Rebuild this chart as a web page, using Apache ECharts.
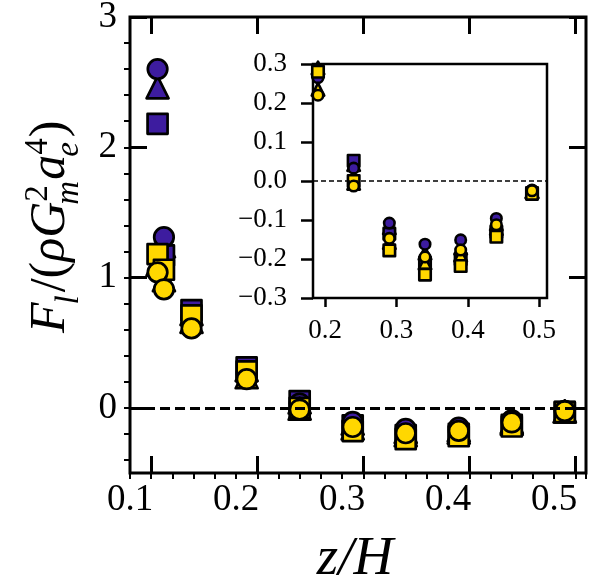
<!DOCTYPE html>
<html>
<head>
<meta charset="utf-8">
<script src="https://cdn.jsdelivr.net/npm/echarts@6/dist/echarts.min.js"></script>
<style>
  html, body { margin: 0; padding: 0; background: #fff; }
  #chart { width: 603px; height: 588px; }
</style>
</head>
<body>
<div id="chart"></div>
<script>
// z/H of the samples
const zPos = [0.106, 0.112, 0.138, 0.19, 0.24, 0.29, 0.34, 0.39, 0.44, 0.49];
// lift force, purple set
const purpleSquare   = [2.18, 1.17, 0.75, 0.31, 0.052, -0.135, -0.21, -0.20, -0.13, -0.031];
const purpleTriangle = [2.46, 1.24, 0.72, 0.29, 0.042, -0.12, -0.185, -0.172, -0.11, -0.027];
const purpleCircle   = [2.60, 1.31, 0.69, 0.265, 0.033, -0.108, -0.162, -0.151, -0.096, -0.023];
// lift force, yellow set
const yellowSquare   = [1.18, 1.06, 0.71, 0.28, 0.0, -0.178, -0.24, -0.218, -0.143, -0.033];
const yellowTriangle = [1.10, 0.98, 0.66, 0.235, -0.006, -0.158, -0.21, -0.19, -0.122, -0.028];
const yellowCircle   = [1.04, 0.91, 0.61, 0.22, -0.013, -0.147, -0.195, -0.177, -0.112, -0.025];

// ticks of the main axes
const xMajorTicks = [0.1, 0.2, 0.3, 0.4, 0.5];
const xLabelAt = [0.08, 0.18, 0.28, 0.38, 0.48];
const xTickLabels = ['0.1', '0.2', '0.3', '0.4', '0.5'];
const yMajorTicks = [0, 1, 2, 3];
const yMinorTicks = [-0.4, -0.2, 0, 0.2, 0.4, 0.6, 0.8, 1, 1.2, 1.4, 1.6, 1.8, 2, 2.2, 2.4, 2.6, 2.8];
// ticks of the inset
const insetXTicks = [0.2, 0.3, 0.4, 0.5];

const PURPLE = '#3d1c9f';
const YELLOW = '#ffd700';
const FAMILY = 'Liberation Serif';
const SERIF = '"Liberation Serif", serif';

// drawing order: triangles, squares, circles; yellow over purple
const sets = [
  { vals: purpleTriangle, symbol: 'triangle', color: PURPLE },
  { vals: purpleSquare, symbol: 'rect', color: PURPLE },
  { vals: purpleCircle, symbol: 'circle', color: PURPLE },
  { vals: yellowTriangle, symbol: 'triangle', color: YELLOW },
  { vals: yellowSquare, symbol: 'rect', color: YELLOW },
  { vals: yellowCircle, symbol: 'circle', color: YELLOW }
];

const sizes = {
  big: { rect: 20, triangle: 22, circle: 19.5, border: 2.7 },
  small: { rect: 11.5, triangle: 12.5, circle: 10.5, border: 2.6 }
};

function points(vals) {
  return zPos.map((z, i) => [z, vals[i]]);
}

function markerSeries(s, axisIdx, big) {
  const sz = big ? sizes.big : sizes.small;
  return {
    type: 'scatter',
    xAxisIndex: axisIdx,
    yAxisIndex: axisIdx,
    symbol: s.symbol,
    symbolSize: sz[s.symbol],
    data: points(s.vals),
    itemStyle: { color: s.color, borderColor: '#000', borderWidth: sz.border, borderJoin: 'round', opacity: 1 },
    emphasis: { disabled: true },
    z: 3
  };
}

function tick(len, w, inside, custom) {
  const t = { show: true, inside: inside, length: len, lineStyle: { color: '#000', width: w } };
  if (custom) t.customValues = custom;
  return t;
}

const noLabel = { show: false };
const noLine = { show: false, onZero: false };
const noSplit = { show: false };

// y title laid out piece by piece, measured with the real font
const ctx = document.createElement('canvas').getContext('2d');
function textW(text, size, italic) {
  ctx.font = (italic ? 'italic ' : '') + size + 'px ' + SERIF;
  return ctx.measureText(text).width;
}
function piece(text, x, base, size, italic) {
  return {
    type: 'text',
    x: x,
    y: base,
    style: {
      text: text,
      fontFamily: FAMILY,
      fontSize: size,
      fontStyle: italic ? 'italic' : 'normal',
      fill: '#000',
      textAlign: 'left',
      textVerticalAlign: 'bottom',
      align: 'left',
      verticalAlign: 'bottom'
    }
  };
}
function yTitle(big, small) {
  const out = [];
  const subY = 0.2 * big, supY = -0.42 * big;
  let cx = 0;
  const put = (t, it) => { out.push(piece(t, cx, 0, big, it)); cx += textW(t, big, it); };
  put('F', true);
  out.push(piece('l', cx - 2, subY, small, true));
  cx += textW('l', small, true) + 1;
  put('/', false);
  put('(', false);
  put('\u03c1', true);
  put('G', true);
  out.push(piece('2', cx, supY, small, false));
  out.push(piece('m', cx - 3, subY, small, true));
  cx += Math.max(textW('2', small, false), textW('m', small, true) - 3) + 1;
  put('a', true);
  out.push(piece('4', cx, supY, small, false));
  out.push(piece('e', cx - 2, subY, small, true));
  cx += Math.max(textW('4', small, false), textW('e', small, true) - 2) + 1;
  put(')', false);
  return out;
}

const chart = echarts.init(document.getElementById('chart'));

chart.setOption({
  animation: false,
  backgroundColor: '#fff',
  grid: [
    { left: 130, top: 17, width: 456, height: 456, show: true, borderColor: '#000', borderWidth: 3, backgroundColor: 'transparent', outerBoundsMode: 'none' },
    { left: 313, top: 64, width: 234, height: 234, show: true, borderColor: '#000', borderWidth: 2.5, backgroundColor: '#fff', outerBoundsMode: 'none' }
  ],
  xAxis: [
    {
      gridIndex: 0, type: 'value', min: 0.08, max: 0.51, position: 'bottom', offset: 0,
      axisLine: noLine, splitLine: noSplit,
      axisTick: tick(17, 3, true, xMajorTicks),
      axisLabel: {
        customValues: xLabelAt, margin: 9,
        fontFamily: SERIF, fontSize: 37, color: '#000',
        formatter: v => xTickLabels[xLabelAt.findIndex(p => Math.abs(p - v) < 1e-6)] || ''
      }
    },
    {
      gridIndex: 0, type: 'value', min: 0.08, max: 0.51, interval: 0.02, position: 'bottom', offset: 0,
      axisLine: noLine, splitLine: noSplit, axisLabel: noLabel,
      axisTick: tick(6, 2, false)
    },
    {
      gridIndex: 0, type: 'value', min: 0.08, max: 0.51, position: 'top', offset: 0,
      axisLine: noLine, splitLine: noSplit, axisLabel: noLabel,
      axisTick: tick(17, 3, true, xMajorTicks)
    },
    {
      gridIndex: 1, type: 'value', min: 0.183, max: 0.511, position: 'bottom', offset: 0,
      axisLine: noLine, splitLine: noSplit,
      axisTick: tick(9, 2.5, false, insetXTicks),
      axisLabel: {
        customValues: insetXTicks, margin: 19,
        fontFamily: SERIF, fontSize: 27, color: '#000',
        formatter: v => v.toFixed(1)
      }
    }
  ],
  yAxis: [
    {
      gridIndex: 0, type: 'value', min: -0.5, max: 3, position: 'left', offset: 0,
      axisLine: noLine, splitLine: noSplit,
      axisTick: tick(17, 3, true, yMajorTicks),
      axisLabel: {
        customValues: yMajorTicks, margin: 13,
        fontFamily: SERIF, fontSize: 37, color: '#000'
      }
    },
    {
      gridIndex: 0, type: 'value', min: -0.5, max: 3, position: 'left', offset: 0,
      axisLine: noLine, splitLine: noSplit, axisLabel: noLabel,
      axisTick: tick(6, 2, false, yMinorTicks)
    },
    {
      gridIndex: 0, type: 'value', min: -0.5, max: 3, position: 'right', offset: 0,
      axisLine: noLine, splitLine: noSplit, axisLabel: noLabel,
      axisTick: tick(17, 3, true, yMajorTicks)
    },
    {
      gridIndex: 1, type: 'value', min: -0.3, max: 0.3, interval: 0.1, position: 'left', offset: 0,
      axisLine: noLine, splitLine: noSplit,
      axisTick: tick(12, 2.5, false),
      axisLabel: {
        margin: 26, fontFamily: SERIF, fontSize: 27, color: '#000',
        formatter: v => Math.abs(v) < 1e-9 ? '0.0' : (v < 0 ? '\u2212' : '') + Math.abs(v).toFixed(1)
      }
    }
  ],
  series: [
    ...sets.map(s => markerSeries(s, 0, true)),
    // zero line, main plot (drawn over the markers)
    {
      type: 'scatter', xAxisIndex: 0, yAxisIndex: 0, data: [], z: 10,
      markLine: {
        silent: true, symbol: ['none', 'none'], label: { show: false },
        lineStyle: { color: '#000', type: [10, 5], width: 3 },
        data: [{ yAxis: 0 }]
      }
    },
    // zero line, inset (under the markers)
    {
      type: 'scatter', xAxisIndex: 3, yAxisIndex: 3, data: [], z: 1,
      markLine: {
        silent: true, symbol: ['none', 'none'], label: { show: false },
        lineStyle: { color: '#000', type: [5, 3], width: 1.5 },
        data: [{ yAxis: 0 }]
      }
    },
    ...sets.map(s => markerSeries(s, 3, false))
  ],
  graphic: [
    {
      type: 'text', x: 355, y: 560,
      style: {
        text: 'z/H', fontFamily: FAMILY, fontSize: 55, fontStyle: 'italic', fill: '#000',
        textAlign: 'center', textVerticalAlign: 'middle', align: 'center', verticalAlign: 'middle'
      }
    },
    {
      type: 'group', x: 76, y: 333, rotation: Math.PI / 2,
      children: yTitle(50, 33)
    }
  ]
});
</script>
</body>
</html>
